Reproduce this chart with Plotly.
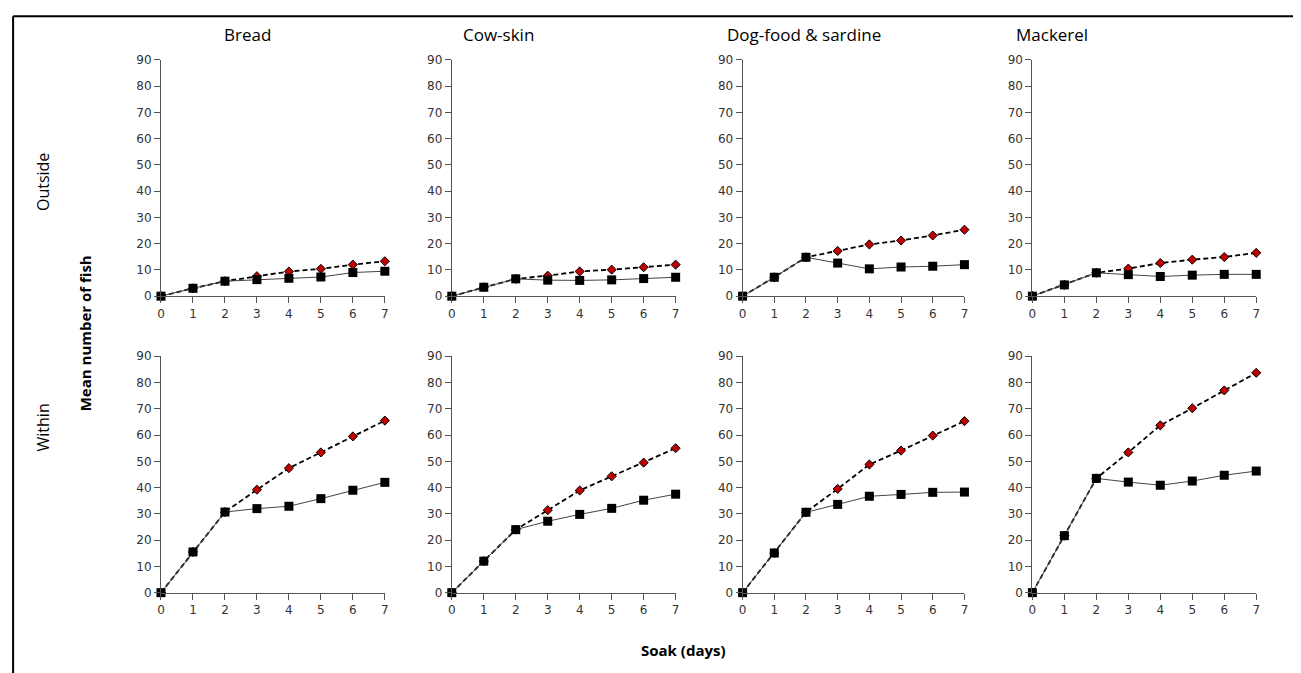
import plotly.graph_objects as go

days = [0, 1, 2, 3, 4, 5, 6, 7]
baits = ["Bread", "Cow-skin", "Dog-food & sardine", "Mackerel"]
rows = ["Outside", "Within"]
y_ticks = [0, 10, 20, 30, 40, 50, 60, 70, 80, 90]

# Outside (top row): squares = observed, diamonds = cumulative (dashed)
outside_square = {
    "Bread": [0, 3.0, 5.7, 6.3, 6.8, 7.3, 9.0, 9.5],
    "Cow-skin": [0, 3.4, 6.6, 6.1, 6.0, 6.2, 6.7, 7.2],
    "Dog-food & sardine": [0, 7.2, 14.8, 12.6, 10.4, 11.1, 11.4, 12.0],
    "Mackerel": [0, 4.3, 8.9, 8.2, 7.5, 8.0, 8.3, 8.3],
}
outside_diamond = {
    "Bread": [0, 3.0, 5.7, 7.6, 9.4, 10.4, 12.0, 13.3],
    "Cow-skin": [0, 3.4, 6.6, 7.8, 9.4, 10.1, 11.0, 12.0],
    "Dog-food & sardine": [0, 7.2, 14.8, 17.2, 19.7, 21.2, 23.1, 25.3],
    "Mackerel": [0, 4.3, 8.9, 10.5, 12.6, 13.9, 14.9, 16.5],
}
within_square = {
    "Bread": [0, 15.5, 30.7, 32.0, 32.9, 35.8, 39.0, 42.0],
    "Cow-skin": [0, 12.0, 24.0, 27.2, 29.8, 32.1, 35.2, 37.5],
    "Dog-food & sardine": [0, 15.1, 30.6, 33.6, 36.7, 37.4, 38.2, 38.3],
    "Mackerel": [0, 21.7, 43.5, 42.1, 40.9, 42.5, 44.7, 46.3],
}
within_diamond = {
    "Bread": [0, 15.5, 30.7, 39.2, 47.4, 53.4, 59.5, 65.5],
    "Cow-skin": [0, 12.0, 24.0, 31.4, 38.9, 44.3, 49.5, 55.0],
    "Dog-food & sardine": [0, 15.1, 30.6, 39.5, 48.8, 54.1, 59.8, 65.3],
    "Mackerel": [0, 21.7, 43.5, 53.4, 63.7, 70.2, 77.0, 83.7],
}

W, H = 1301, 673

# target layout in screen pixels
col_px = [(160, 384), (451, 675), (742, 964), (1032, 1256)]
row_px = [(60, 296), (356, 592)]  # (top, bottom) pixel y of 90 and 0
title_x_px = [247, 498, 803, 1052]

# measured placement of the fixed-size figure on the captured page
OX, SW = 10.9, 1293.9
OY, SH = 15.3, 657.9


def PX(p):
    return (p - OX) / SW


def PY(p):
    return 1 - (p - OY) / SH


FONT = "Open Sans"
AX_COLOR = "#555555"
TXT_COLOR = "#333333"

fig = go.Figure()
layout_axes = {}

data_sets = [(outside_square, outside_diamond), (within_square, within_diamond)]
k = 0
for r, (sq, dm) in enumerate(data_sets):
    for c, bait in enumerate(baits):
        k += 1
        xa = "x" if k == 1 else f"x{k}"
        ya = "y" if k == 1 else f"y{k}"
        fig.add_trace(go.Scatter(
            x=days, y=dm[bait], mode="lines+markers", xaxis=xa, yaxis=ya,
            line=dict(color="black", width=1.8, dash="5px,3px"),
            marker=dict(symbol="diamond", size=7, color="#c00000",
                        line=dict(color="black", width=1)),
            cliponaxis=False, showlegend=False))
        fig.add_trace(go.Scatter(
            x=days, y=sq[bait], mode="lines+markers", xaxis=xa, yaxis=ya,
            line=dict(color="#444444", width=1),
            marker=dict(symbol="square", size=9, color="black",
                        line=dict(color="black", width=0)),
            cliponaxis=False, showlegend=False))
        x0, x1 = col_px[c]
        top, bot = row_px[r]
        xkey = "xaxis" if k == 1 else f"xaxis{k}"
        ykey = "yaxis" if k == 1 else f"yaxis{k}"
        layout_axes[xkey] = dict(
            domain=[PX(x0), PX(x1)], anchor=ya, range=[0, 7],
            tickmode="array", tickvals=days, ticktext=[str(d) for d in days],
            showgrid=False, zeroline=False, showline=True, linecolor=AX_COLOR,
            linewidth=1, ticks="outside", ticklen=6, tickcolor=AX_COLOR,
            tickfont=dict(family="DejaVu Sans", size=12, color=TXT_COLOR), fixedrange=True)
        layout_axes[ykey] = dict(
            domain=[PY(bot), PY(top)], anchor=xa, range=[0, 90],
            tickmode="array", tickvals=y_ticks, ticktext=[str(v) for v in y_ticks],
            showgrid=False, zeroline=False, showline=True, linecolor=AX_COLOR,
            linewidth=1, ticks="outside", ticklen=6, tickcolor=AX_COLOR,
            tickfont=dict(family="DejaVu Sans", size=12, color=TXT_COLOR), fixedrange=True)

annotations = []
for c, bait in enumerate(baits):
    annotations.append(dict(text=bait, x=PX(title_x_px[c]), y=PY(35),
                            xref="paper", yref="paper", showarrow=False,
                            xanchor="center", yanchor="middle",
                            font=dict(family=FONT, size=17, color="black")))
annotations.append(dict(text="Outside", x=PX(42), y=PY(182), xref="paper", yref="paper",
                        showarrow=False, textangle=-90, xanchor="center", yanchor="middle",
                        font=dict(family=FONT, size=16, color="black")))
annotations.append(dict(text="Within", x=PX(42), y=PY(427), xref="paper", yref="paper",
                        showarrow=False, textangle=-90, xanchor="center", yanchor="middle",
                        font=dict(family=FONT, size=16, color="black")))
annotations.append(dict(text="<b>Mean number of fish</b>", x=PX(84), y=PY(333),
                        xref="paper", yref="paper", showarrow=False, textangle=-90,
                        xanchor="center", yanchor="middle",
                        font=dict(family=FONT, size=15, color="black")))
annotations.append(dict(text="<b>Soak (days)</b>", x=PX(683), y=PY(649),
                        xref="paper", yref="paper", showarrow=False,
                        xanchor="center", yanchor="middle",
                        font=dict(family=FONT, size=15, color="black")))

# frame: only the left and top edges fall inside the picture
frame = [
    dict(type="line", xref="paper", yref="paper",
         x0=PX(12), x1=PX(1310), y0=PY(16.5), y1=PY(16.5),
         line=dict(color="black", width=2)),
    dict(type="line", xref="paper", yref="paper",
         x0=PX(12), x1=PX(12), y0=PY(16.5), y1=PY(690),
         line=dict(color="black", width=2)),
]

fig.update_layout(
    width=W, height=H, margin=dict(l=0, r=0, t=0, b=0),
    paper_bgcolor="white", plot_bgcolor="white",
    annotations=annotations,
    shapes=frame,
    **layout_axes,
)

fig.write_html("out.html")
